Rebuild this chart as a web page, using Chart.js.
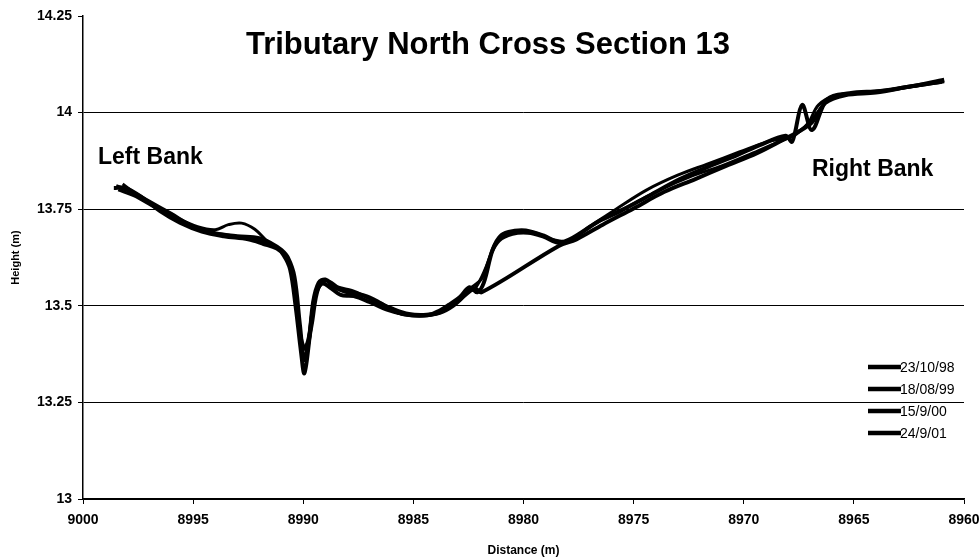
<!DOCTYPE html>
<html>
<head>
<meta charset="utf-8">
<script src="https://cdn.jsdelivr.net/npm/chart.js@4.4.0/dist/chart.umd.min.js"></script>
<style>
  body { margin: 0; background: #fff; }
  canvas { display: block; }
</style>
</head>
<body>
<canvas id="myChart" width="979" height="558"></canvas>
<script>
// survey dates
const surveyLabels = ['23/10/98', '18/08/99', '15/9/00', '24/9/01']

// 23/10/98
const dist1 = [8998.6, 8998.1, 8997.3, 8996.5, 8995.6, 8994.6, 8993.6, 8992.5, 8991.8, 8991.2, 8990.9, 8990.6, 8990.35, 8990.1, 8989.95, 8989.75, 8989.55, 8989.3, 8989.0, 8988.6, 8988.1, 8987.6, 8987.0, 8986.5, 8985.9, 8985.2, 8984.3, 8983.8, 8983.4, 8982.9, 8982.45, 8982.1, 8981.8, 8981.4, 8981.0, 8980.4, 8979.9, 8979.1, 8978.4, 8977.9, 8976.6, 8975.6, 8974.3, 8972.9, 8971.6, 8970.3, 8969.3, 8968.1, 8967.8, 8967.35, 8966.9, 8966.2, 8965.2, 8963.8, 8962.5, 8960.9]
const height1 = [13.805, 13.805, 13.78, 13.745, 13.715, 13.692, 13.68, 13.672, 13.66, 13.648, 13.632, 13.595, 13.5, 13.38, 13.325, 13.4, 13.51, 13.56, 13.568, 13.55, 13.537, 13.532, 13.522, 13.507, 13.487, 13.476, 13.476, 13.488, 13.502, 13.522, 13.548, 13.535, 13.56, 13.645, 13.683, 13.694, 13.695, 13.682, 13.665, 13.672, 13.718, 13.745, 13.785, 13.828, 13.86, 13.89, 13.915, 13.94, 13.925, 14.02, 13.955, 14.035, 14.05, 14.056, 14.067, 14.085]

// 18/08/99
const dist2 = [8998.2, 8997.6, 8996.8, 8995.8, 8994.8, 8994.0, 8993.4, 8992.8, 8992.2, 8991.6, 8991.1, 8990.7, 8990.4, 8990.1, 8989.85, 8989.6, 8989.3, 8988.9, 8988.4, 8987.8, 8987.2, 8986.4, 8985.6, 8984.8, 8984.0, 8983.4, 8982.8, 8982.3, 8981.9, 8981.5, 8981.1, 8980.5, 8979.8, 8979.1, 8978.4, 8977.6, 8976.4, 8975.2, 8973.8, 8972.4, 8971.0, 8969.6, 8968.4, 8967.6, 8967.1, 8966.6, 8965.8, 8964.6, 8963.2, 8961.6, 8960.9]
const height2 = [13.815, 13.79, 13.76, 13.73, 13.705, 13.697, 13.71, 13.714, 13.698, 13.665, 13.645, 13.615, 13.545, 13.42, 13.385, 13.45, 13.545, 13.565, 13.548, 13.54, 13.525, 13.5, 13.48, 13.475, 13.478, 13.495, 13.525, 13.55, 13.57, 13.63, 13.668, 13.685, 13.688, 13.678, 13.662, 13.68, 13.725, 13.758, 13.8, 13.835, 13.862, 13.895, 13.925, 13.945, 13.97, 14.02, 14.045, 14.05, 14.06, 14.075, 14.082]

// 15/9/00
const dist3 = [8998.5, 8997.8, 8997.0, 8996.0, 8995.0, 8994.0, 8993.0, 8992.0, 8991.4, 8991.0, 8990.7, 8990.4, 8990.15, 8989.95, 8989.7, 8989.45, 8989.15, 8988.8, 8988.3, 8987.7, 8987.0, 8986.2, 8985.4, 8984.6, 8983.8, 8983.2, 8982.6, 8982.2, 8981.9, 8978.4, 8977.6, 8976.4, 8975.0, 8973.6, 8972.2, 8970.8, 8969.4, 8968.2, 8967.6, 8966.9, 8966.3, 8965.4, 8964.0, 8962.4, 8961.0]
const height3 = [13.81, 13.795, 13.77, 13.738, 13.705, 13.688, 13.68, 13.675, 13.66, 13.645, 13.625, 13.575, 13.45, 13.36, 13.43, 13.53, 13.558, 13.548, 13.528, 13.525, 13.51, 13.49, 13.478, 13.475, 13.482, 13.5, 13.53, 13.545, 13.535, 13.655, 13.672, 13.71, 13.752, 13.795, 13.828, 13.862, 13.895, 13.93, 13.948, 13.975, 14.025, 14.045, 14.052, 14.068, 14.08]

// 24/9/01
const dist4 = [8998.4, 8997.7, 8996.9, 8996.0, 8995.1, 8994.2, 8993.3, 8992.4, 8991.7, 8991.2, 8990.8, 8990.5, 8990.25, 8990.0, 8989.8, 8989.55, 8989.2, 8988.8, 8988.2, 8987.5, 8986.8, 8986.0, 8985.2, 8984.4, 8983.7, 8983.1, 8982.6, 8982.2, 8981.7, 8981.3, 8980.8, 8980.1, 8979.4, 8978.7, 8978.0, 8977.0, 8975.8, 8974.4, 8973.0, 8971.6, 8970.2, 8968.9, 8968.0, 8967.4, 8966.8, 8966.0, 8965.0, 8963.6, 8962.0, 8960.9]
const height4 = [13.8, 13.785, 13.76, 13.732, 13.708, 13.69, 13.682, 13.674, 13.662, 13.65, 13.63, 13.58, 13.47, 13.39, 13.41, 13.5, 13.555, 13.552, 13.538, 13.53, 13.515, 13.495, 13.48, 13.478, 13.485, 13.505, 13.535, 13.545, 13.6, 13.66, 13.685, 13.692, 13.688, 13.672, 13.668, 13.705, 13.75, 13.8, 13.838, 13.868, 13.898, 13.925, 13.935, 13.955, 13.99, 14.04, 14.05, 14.058, 14.07, 14.08]

const distTicks = [9000, 8995, 8990, 8985, 8980, 8975, 8970, 8965, 8960]
const heightTicks = [13, 13.25, 13.5, 13.75, 14, 14.25]

const allDist = [dist1, dist2, dist3, dist4]
const allHeight = [height1, height2, height3, height4]
const lineWidths = [4, 3, 4, 3]

const FONT = "'Liberation Sans', Arial, sans-serif"

function toPoints(xs, ys) {
    return xs.map((x, i) => ({ x: x, y: ys[i] }))
}

// title, bank notes and the legend sit inside the plot, drawn here
const overlayText = {
    id: 'overlayText',
    afterDraw(chart) {
        const c = chart.ctx
        c.save()
        c.fillStyle = '#000'
        c.textBaseline = 'alphabetic'
        c.font = 'bold 31px ' + FONT
        c.textAlign = 'center'
        c.fillText('Tributary North Cross Section 13', 488, 54)
        c.textAlign = 'left'
        c.font = 'bold 23px ' + FONT
        c.fillText('Left Bank', 98, 164)
        c.fillText('Right Bank', 812, 176)

        c.font = '14px ' + FONT
        c.textBaseline = 'middle'
        chart.data.datasets.forEach((ds, i) => {
            const y = 367 + i * 22
            c.strokeStyle = ds.borderColor
            c.lineWidth = 4.5
            c.beginPath()
            c.moveTo(868, y)
            c.lineTo(901, y)
            c.stroke()
            c.fillText(ds.label, 900, y + 1)
        })
        c.restore()
    }
}

var ctx = document.getElementById('myChart').getContext('2d')
const myChart = new Chart(ctx, {
    type: 'line',
    data: {
        datasets: surveyLabels.map((label, i) => ({
            label: label,
            data: toPoints(allDist[i], allHeight[i]),
            borderColor: '#000',
            borderWidth: lineWidths[i],
            pointRadius: 0,
            tension: 0.35,
            fill: false
        }))
    },
    options: {
        responsive: false,
        devicePixelRatio: 1,
        animation: false,
        layout: { padding: { top: 16, right: 15, left: 0, bottom: 0 } },
        plugins: {
            legend: { display: false },
            title: { display: false },
            tooltip: { enabled: false }
        },
        scales: {
            x: {
                type: 'linear',
                reverse: true,
                min: 8960,
                max: 9000,
                afterBuildTicks: axis => { axis.ticks = distTicks.map(v => ({ value: v })) },
                afterFit: axis => { axis.height = 59; axis.paddingRight = 0; axis.paddingLeft = 0 },
                border: { color: '#000', width: 1.5 },
                grid: { drawOnChartArea: false, drawTicks: true, tickLength: 5, tickColor: '#000' },
                ticks: {
                    color: '#000',
                    padding: 8,
                    maxRotation: 0,
                    autoSkip: false,
                    font: { family: FONT, size: 14, weight: 'bold' },
                    callback: v => String(v)
                },
                title: {
                    display: true,
                    text: 'Distance (m)',
                    color: '#000',
                    padding: { top: 1, bottom: 0 },
                    font: { family: FONT, size: 12, weight: 'bold' }
                }
            },
            y: {
                min: 13,
                max: 14.25,
                afterBuildTicks: axis => { axis.ticks = heightTicks.map(v => ({ value: v })) },
                afterFit: axis => { axis.width = 83 },
                border: { color: '#000', width: 1.5 },
                grid: {
                    color: c => (c.tick && c.tick.value === 14.25) ? 'rgba(0,0,0,0)' : '#000',
                    lineWidth: 1,
                    drawTicks: true,
                    tickLength: 5,
                    tickColor: '#000'
                },
                ticks: {
                    color: '#000',
                    padding: 6,
                    font: { family: FONT, size: 14, weight: 'bold' },
                    callback: v => String(+v.toFixed(2))
                },
                title: {
                    display: true,
                    text: 'Height (m)',
                    color: '#000',
                    padding: { top: 9, bottom: 0 },
                    font: { family: FONT, size: 11, weight: 'bold' }
                }
            }
        }
    },
    plugins: [overlayText]
})
</script>
</body>
</html>
